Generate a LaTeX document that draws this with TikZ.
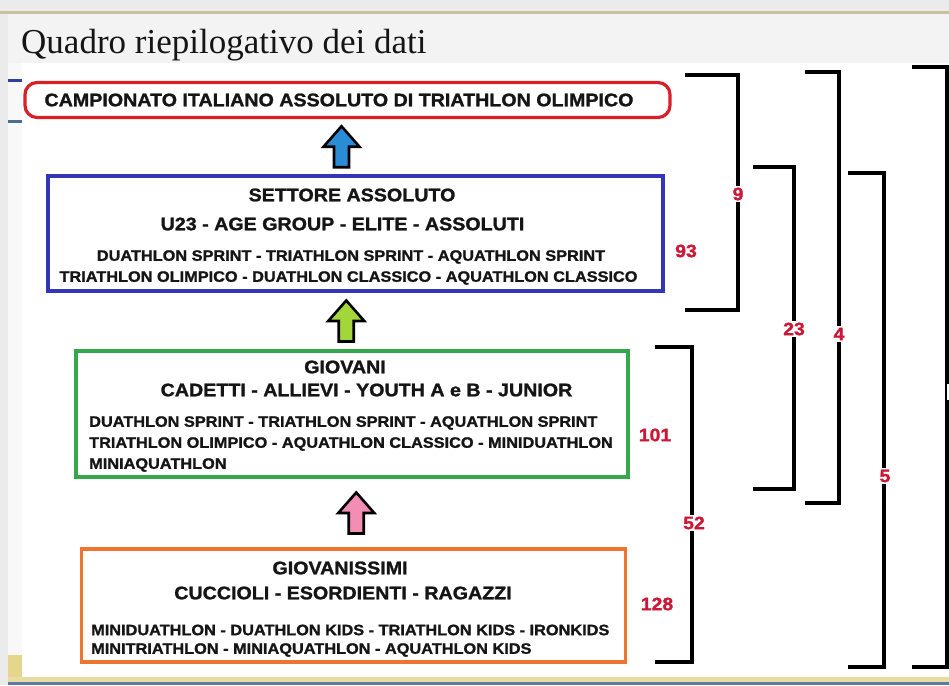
\documentclass[tikz,border=0pt]{standalone}
\usepackage{fontspec}
\setmainfont{Liberation Serif}
\newfontfamily\hd{Liberation Sans Bold}[FakeStretch=1.08, FakeBold=1.3]
\usetikzlibrary{calc}

\definecolor{ink}{HTML}{151515}
\definecolor{numred}{HTML}{CC1836}
\definecolor{redframe}{HTML}{D92029}
\definecolor{blueframe}{HTML}{3535B8}
\definecolor{greenframe}{HTML}{34A84A}
\definecolor{orangeframe}{HTML}{EE7430}
\definecolor{arrowblue}{HTML}{2B8CD6}
\definecolor{arrowgreen}{HTML}{A3D63A}
\definecolor{arrowpink}{HTML}{F28DB4}
\definecolor{pagegrey}{HTML}{EBEBEC}
\definecolor{bandgrey}{HTML}{F3F3F3}
\definecolor{sidegrey}{HTML}{F8F8F8}
\definecolor{tanline}{HTML}{C9C09E}
\definecolor{sandline}{HTML}{E8DBA4}
\definecolor{sandblock}{HTML}{E6D68C}
\definecolor{steel}{HTML}{5C7D9C}
\definecolor{dashblue}{HTML}{3040A0}
\definecolor{dashsteel}{HTML}{4E6E8E}

\tikzset{
  head/.style={font=\hd\fontsize{18.2}{20}\selectfont, text=ink, inner sep=0pt},
  small/.style={font=\hd\fontsize{15.1}{17}\selectfont, text=ink, inner sep=0pt},
  num/.style={font=\hd\fontsize{18}{20}\selectfont, text=numred, fill=white, inner sep=1.5pt},
  frame/.style={draw, line width=3.2pt, fill=white, inner sep=0pt},
  brk/.style={line width=3.6pt, black, line join=miter},
  uparrow/.pic={\draw[line width=2.6pt, line join=miter, fill=#1]
      (0,-20.5) -- (18,0) -- (7.5,0) -- (7.5,20.5) -- (-7.5,20.5) -- (-7.5,0) -- (-18,0) -- cycle;}
}

\begin{document}
\begin{tikzpicture}[x=1pt,y=-1pt]
\useasboundingbox (0,0) rectangle (949,685);

% page background, bands and side strip
\fill[pagegrey] (0,0) rectangle (949,685);
\fill[tanline] (0,11) rectangle (949,14);
\fill[bandgrey] (8,14) rectangle (949,63);
\fill[sidegrey] (8,63) rectangle (22,677);
\fill[sandblock] (8,655) rectangle (22,677);
\fill[white] (22,63) rectangle (949,677);
\fill[sandline] (8,677) rectangle (949,682);
\fill[steel] (8,682) rectangle (949,685);
\fill[dashblue] (8,79) rectangle (22,81.5);
\fill[dashsteel] (8,120) rectangle (22,122.5);

% heading
\node[font=\fontsize{35}{40}\selectfont, anchor=base west, inner sep=0pt, text=ink]
  (heading) at (21,53) {Quadro riepilogativo dei dati};

% top level: championship
\node[frame, draw=redframe, rounded corners=12pt, minimum width=645pt, minimum height=35pt]
  (campionato) at (347.5,100) {};
\node[head] (campionatoT) at (339,100) {CAMPIONATO ITALIANO ASSOLUTO DI TRIATHLON OLIMPICO};

% absolute sector
\node[frame, draw=blueframe, minimum width=615pt, minimum height=115pt]
  (assoluto) at (355.5,233.5) {};
\node[head] (assolutoA) at (352,195) {SETTORE ASSOLUTO};
\node[head] (assolutoB) at (342.5,224) {U23 - AGE GROUP - ELITE - ASSOLUTI};
\node[small] (assolutoC) at (351,257) {DUATHLON SPRINT - TRIATHLON SPRINT - AQUATHLON SPRINT};
\node[small] (assolutoD) at (348.5,278) {TRIATHLON OLIMPICO - DUATHLON CLASSICO - AQUATHLON CLASSICO};

% youth
\node[frame, draw=greenframe, minimum width=552pt, minimum height=126pt]
  (giovani) at (352,414) {};
\node[head] (giovaniA) at (345,367) {GIOVANI};
\node[head] (giovaniB) at (366.5,390) {CADETTI - ALLIEVI - YOUTH A e B - JUNIOR};
\node[small, anchor=west] (giovaniC) at (89,423) {DUATHLON SPRINT - TRIATHLON SPRINT - AQUATHLON SPRINT};
\node[small, anchor=west] (giovaniD) at (89,444) {TRIATHLON OLIMPICO - AQUATHLON CLASSICO - MINIDUATHLON};
\node[small, anchor=west] (giovaniE) at (89,465) {MINIAQUATHLON};

% youngest
\node[frame, draw=orangeframe, minimum width=544pt, minimum height=113pt]
  (giovanissimi) at (353.5,605.5) {};
\node[head] (giovanissimiA) at (340,568) {GIOVANISSIMI};
\node[head] (giovanissimiB) at (343,593) {CUCCIOLI - ESORDIENTI - RAGAZZI};
\node[small, anchor=west] (giovanissimiC) at (91,630) {MINIDUATHLON - DUATHLON KIDS - TRIATHLON KIDS - IRONKIDS};
\node[small, anchor=west] (giovanissimiD) at (91,650) {MINITRIATHLON - MINIAQUATHLON - AQUATHLON KIDS};

% block arrows between levels
\path ($(assoluto.north)!0.5!(campionato.south)$) ++(-10,0) pic {uparrow=arrowblue};
\path ($(giovani.north)!0.5!(assoluto.south)$) ++(-7.5,0) pic {uparrow=arrowgreen};
\path ($(giovanissimi.north)!0.5!(giovani.south)$) ++(3.5,0) pic {uparrow=arrowpink};

% counts beside the boxes
\node[num] (n93) at (686,251) {93};
\node[num] (n101) at (655,435) {101};
\node[num] (n128) at (657,604) {128};

% brackets grouping the levels
\coordinate (b9t) at (685,75);   \coordinate (b9b) at (685,310);
\coordinate (b23t) at (753,167); \coordinate (b23b) at (753,489);
\coordinate (b4t) at (805,72);   \coordinate (b4b) at (805,503);
\coordinate (b52t) at (655,347); \coordinate (b52b) at (655,662);
\coordinate (b5t) at (848,173);  \coordinate (b5b) at (848,667);
\coordinate (ballt) at (912,67); \coordinate (ballb) at (912,667);

\draw[brk] (b9t) -- ++(53,0) |- (b9b);
\draw[brk] (b23t) -- ++(41,0) |- (b23b);
\draw[brk] (b4t) -- ++(34,0) |- (b4b);
\draw[brk] (b52t) -- ++(37,0) |- (b52b);
\draw[brk] (b5t) -- ++(36,0) |- (b5b);
\draw[brk] (ballt) -- ++(35,0) |- (ballb);

\node[num] (n9) at (738,194) {9};
\node[num] (n23) at (794,329) {23};
\node[num] (n4) at (839,334) {4};
\node[num] (n52) at (694,523) {52};
\node[num] (n5) at (885,476) {5};
\node[num] (nall) at (954,392) {1};
\end{tikzpicture}
\end{document}
